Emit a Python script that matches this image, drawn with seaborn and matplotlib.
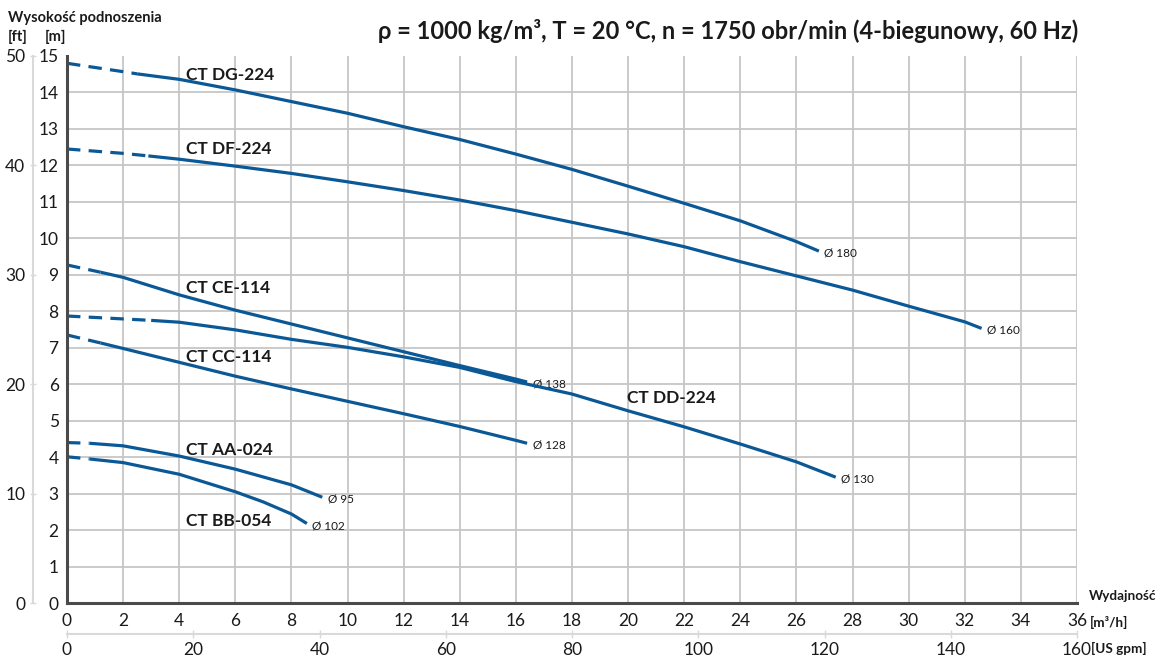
import numpy as np
import pandas as pd
import matplotlib
matplotlib.use("Agg")
import matplotlib.pyplot as plt
import seaborn as sns

# ---------------- data ----------------
dg_q = [0, 2, 2.5, 4, 6, 8, 10, 12, 14, 16, 18, 20, 22, 24, 26, 26.8]
dg_h = [14.80, 14.57, 14.51, 14.36, 14.07, 13.75, 13.43, 13.06, 12.71, 12.31, 11.89, 11.43, 10.96, 10.48, 9.91, 9.65]
df_q = [0, 2, 2.9, 4, 6, 8, 10, 12, 14, 16, 18, 20, 22, 24, 26, 28, 30, 32, 32.6]
df_h = [12.45, 12.33, 12.26, 12.17, 11.98, 11.78, 11.55, 11.31, 11.05, 10.76, 10.44, 10.12, 9.77, 9.36, 8.97, 8.58, 8.14, 7.71, 7.53]
ce_q = [0, 1.2, 2, 4, 6, 8, 10, 12, 14, 16, 16.4]
ce_h = [9.27, 9.07, 8.93, 8.45, 8.03, 7.65, 7.27, 6.89, 6.51, 6.14, 6.06]
dd_q = [0, 2, 3, 4, 6, 8, 10, 12, 14, 16, 18, 20, 22, 24, 26, 27.4]
dd_h = [7.87, 7.79, 7.75, 7.70, 7.49, 7.23, 7.01, 6.75, 6.46, 6.07, 5.73, 5.27, 4.83, 4.36, 3.87, 3.45]
cc_q = [0, 1.2, 2, 4, 6, 8, 10, 12, 14, 16, 16.4]
cc_h = [7.35, 7.13, 6.98, 6.60, 6.22, 5.87, 5.53, 5.19, 4.84, 4.46, 4.38]
aa_q = [0, 0.8, 2, 4, 6, 8, 9.1]
aa_h = [4.40, 4.38, 4.31, 4.03, 3.67, 3.24, 2.90]
bb_q = [0, 0.8, 2, 4, 6, 7, 8, 8.55]
bb_h = [4.01, 3.95, 3.85, 3.53, 3.05, 2.77, 2.44, 2.18]

pump_names = ["CT DG-224", "CT DF-224", "CT CE-114", "CT DD-224", "CT CC-114", "CT AA-024", "CT BB-054"]
diameters = ["Ø 180", "Ø 160", "Ø 138", "Ø 130", "Ø 128", "Ø 95", "Ø 102"]
dash_end = [2, 2, 1, 2, 1, 1, 1]   # index of last point of dashed part
curves_q = [dg_q, df_q, ce_q, dd_q, cc_q, aa_q, bb_q]
curves_h = [dg_h, df_h, ce_h, dd_h, cc_h, aa_h, bb_h]

name_pos_q = [4.25, 4.25, 4.25, 19.95, 4.25, 4.25, 4.25]
name_pos_h = [14.48, 12.45, 8.64, 5.62, 6.75, 4.2, 2.25]

x_ticks = list(range(0, 37, 2))
y_ticks = list(range(0, 16))
ft_ticks = [0, 10, 20, 30, 40, 50]
gpm_ticks = [0, 20, 40, 60, 80, 100, 120, 140, 160]

title = "ρ = 1000 kg/m³, T = 20 °C, n = 1750 obr/min (4-biegunowy, 60 Hz)"

# ---------------- style ----------------
sns.set_theme(style="white")
FAM = ["Lato", "DejaVu Sans"]
plt.rcParams["font.family"] = FAM

BLUE = "#0b5896"
GRID = "#c6c6c6"
TXT = "#1a1a1a"

W, H = 1159, 662
fig = plt.figure(figsize=(W / 100, H / 100), dpi=100)
ax = fig.add_axes([67 / W, 59 / H, 1010 / W, 547 / H])

for i in range(len(curves_q)):
    q = np.array(curves_q[i]); h = np.array(curves_h[i]); k = dash_end[i]
    seg_d = pd.DataFrame({"Q": q[:k + 1], "H": h[:k + 1]})
    seg_s = pd.DataFrame({"Q": q[k:], "H": h[k:]})
    sns.lineplot(data=seg_d, x="Q", y="H", ax=ax, color=BLUE, linewidth=2.3,
                 linestyle=(0, (4.2, 2.6)), sort=False, zorder=3)
    sns.lineplot(data=seg_s, x="Q", y="H", ax=ax, color=BLUE, linewidth=2.3,
                 sort=False, zorder=3, solid_capstyle="butt", solid_joinstyle="round")
    ax.annotate(diameters[i], xy=(q[-1], h[-1]), xytext=(4, -1.5), textcoords="offset points",
                ha="left", va="center", fontsize=8.5, color=TXT)
    ax.text(name_pos_q[i], name_pos_h[i], pump_names[i], ha="left", va="center",
            fontsize=12.5, fontweight="bold", color=TXT)

ax.set_xlim(0, 36)
ax.set_ylim(0, 15)
ax.set_xticks(x_ticks)
ax.set_yticks(y_ticks)
ax.set_xlabel(""); ax.set_ylabel("")
ax.grid(True, color=GRID, linewidth=1.3, zorder=0)
ax.set_axisbelow(True)
ygl = ax.yaxis.get_gridlines()
ygl[-1].set_visible(False)
for s in ["top", "right"]:
    ax.spines[s].set_visible(False)
for s in ["left", "bottom"]:
    ax.spines[s].set_color("#4a4a4a")
    ax.spines[s].set_linewidth(2.2)
    ax.spines[s].set_zorder(4)
ax.tick_params(axis="both", length=0, labelsize=12.5, colors=TXT)
ax.tick_params(axis="x", pad=7)
ax.tick_params(axis="y", pad=6)

# secondary ft axis (50 ft drawn at 15 m as in the reference)
sec_y = ax.secondary_yaxis(-34 / 1010, functions=(lambda m: m * 50 / 15, lambda f: f * 15 / 50))
sec_y.set_yticks(ft_ticks)
sec_y.spines["left"].set_color("#d9d9d9")
sec_y.spines["left"].set_linewidth(1.5)
sec_y.tick_params(axis="y", length=5, width=1, color="#d9d9d9", direction="inout",
                  labelsize=12.5, labelcolor=TXT, pad=3)

# secondary gpm axis (160 gpm drawn at 36 m3/h as in the reference)
sec_x = ax.secondary_xaxis(-31 / 547, functions=(lambda q: q * 160 / 36, lambda g: g * 36 / 160))
sec_x.set_xticks(gpm_ticks)
sec_x.spines["bottom"].set_color("#d9d9d9")
sec_x.spines["bottom"].set_linewidth(1.5)
sec_x.tick_params(axis="x", length=6, width=1, color="#d9d9d9", direction="inout",
                  labelsize=12.5, labelcolor=TXT, pad=3)

# texts
fig.text(1078 / W, 1 - 31 / H, title, ha="right", va="center", fontsize=17,
         fontweight="bold", color=TXT)
fig.text(8 / W, 1 - 18 / H, "Wysokość podnoszenia", ha="left", va="center",
         fontsize=10.5, fontweight="bold", color=TXT)
fig.text(8 / W, 1 - 37 / H, "[ft]", ha="left", va="center", fontsize=10.5, fontweight="bold", color=TXT)
fig.text(45 / W, 1 - 37 / H, "[m]", ha="left", va="center", fontsize=10.5, fontweight="bold", color=TXT)
fig.text(1089 / W, 1 - 596 / H, "Wydajność", ha="left", va="center", fontsize=9.7,
         fontweight="bold", color=TXT)
fig.text(1090 / W, 1 - 622 / H, "[m³/h]", ha="left", va="center", fontsize=9.7,
         fontweight="bold", color=TXT)
fig.text(1091 / W, 1 - 648 / H, "[US gpm]", ha="left", va="center", fontsize=9.7,
         fontweight="bold", color=TXT)

fig.savefig("out.png", dpi=100, facecolor="white")
